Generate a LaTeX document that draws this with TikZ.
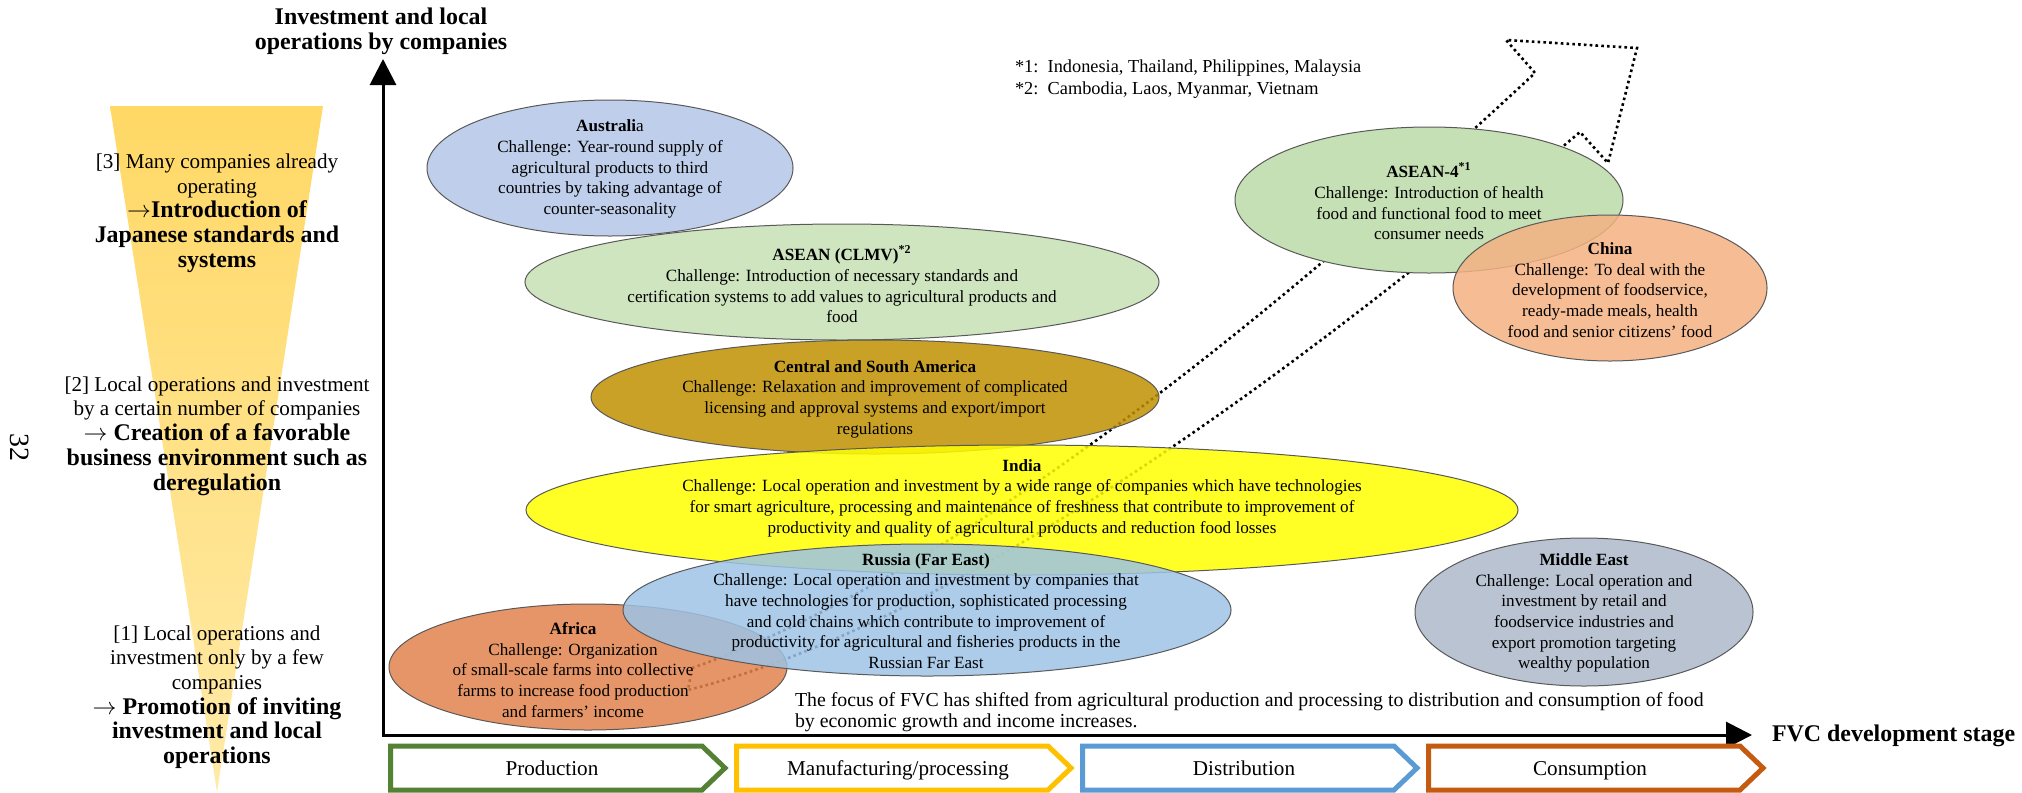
\documentclass[tikz,border=0pt]{standalone}
\usepackage{fontspec}
\setmainfont{Liberation Serif}
\usetikzlibrary{arrows.meta,shapes.geometric}

\definecolor{funneltop}{HTML}{FFD865}
\definecolor{funnelbot}{HTML}{FFEAA8}
\definecolor{ausblue}{HTML}{B4C7E7}
\definecolor{aseangreen}{HTML}{C5E0B4}
\definecolor{latamgold}{HTML}{BF9000}
\definecolor{indiayellow}{HTML}{FFFF00}
\definecolor{russiablue}{HTML}{9DC3E6}
\definecolor{africaorange}{HTML}{E2834D}
\definecolor{megray}{HTML}{ADB9CA}
\definecolor{chinapeach}{HTML}{F4B183}
\definecolor{prodgreen}{HTML}{548235}
\definecolor{manugold}{HTML}{FFC000}
\definecolor{distblue}{HTML}{5B9BD5}
\definecolor{consorange}{HTML}{C55A11}

% bold line of the funnel texts
\newcommand{\strongline}[1]{{\bfseries\fontsize{12}{12.6}\selectfont #1}}

\begin{document}
\begin{tikzpicture}[x=0.5bp, y=-0.5bp, >={Triangle[length=13bp,width=13bp]},
    region/.style={ellipse, draw=black!65, line width=0.5bp, fill opacity=0.85, inner sep=0pt},
    regtext/.style={align=center, font=\fontsize{8.6}{10.35}\selectfont},
    lefttext/.style={align=center, font=\fontsize{10.6}{12.4}\selectfont},
    bigbold/.style={font=\bfseries\fontsize{12}{12.5}\selectfont},
    flow/.style={draw=black, line width=1.3bp, dash pattern=on 1.3bp off 1.6bp},
    stagebox/.style={line width=2.5bp, fill=white, line join=miter},
    stagetext/.style={font=\fontsize{10.6}{12}\selectfont, text height=7.2pt, text depth=0pt}]
    \useasboundingbox (0,0) rectangle (2022,792);

    % Funnel on the left
    \shade[top color=funneltop, bottom color=funnelbot] (110,106) -- (323,106) -- (217,792) -- cycle;
    \node (pageno) [rotate=-90, font=\fontsize{14}{14}\selectfont] at (20,447) {32};

    \node (stage3) [lefttext] at (217,213) {[3] Many companies already\\operating\\\strongline{$\rightarrow$Introduction of}\\\strongline{Japanese standards and}\\\strongline{systems}};
    \node (stage2) [lefttext] at (217,436) {[2] Local operations and investment\\by a certain number of companies\\\strongline{$\rightarrow$ Creation of a favorable}\\\strongline{business environment such as}\\\strongline{deregulation}};
    \node (stage1) [lefttext] at (217,697) {[1] Local operations and\\investment only by a few\\companies\\\strongline{$\rightarrow$ Promotion of inviting}\\\strongline{investment and local}\\\strongline{operations}};

    % Dotted shift arrow
    \draw[flow] (692,668) .. controls (909,592) and (1190,394) .. (1535,73)
        -- (1506,40) -- (1637,48) -- (1608,163) -- (1580,132)
        .. controls (1208,448) and (911,634) .. (688,690) -- cycle;

    % Axes
    \coordinate (origin) at (383,735);
    \coordinate (ytop) at (383,59);
    \coordinate (xend) at (1752,735);
    \draw[<->, line width=1.5bp] (ytop) |- (xend);
    \node (ytitle) [bigbold, align=center] at (381,31) {Investment and local\\operations by companies};
    \node (xtitle) [bigbold, anchor=west] at (1765,736) {FVC development stage};

    % Regions
    \node (aus) [region, fill=ausblue, minimum width=183bp, minimum height=68bp] at (610,168) {};
    \node (clmv) [region, fill=aseangreen, minimum width=317bp, minimum height=58bp] at (842,282) {};
    \node (latam) [region, fill=latamgold, minimum width=284bp, minimum height=57bp] at (875,397) {};
    \node (india) [region, fill=indiayellow, minimum width=496bp, minimum height=65bp] at (1022,510) {};
    \node (africa) [region, fill=africaorange, minimum width=199bp, minimum height=63bp] at (588,667) {};
    \node (russia) [region, fill=russiablue, minimum width=304bp, minimum height=66bp] at (927,610) {};
    \node (meast) [region, fill=megray, minimum width=169bp, minimum height=74bp] at (1584,612) {};
    \node (asean4) [region, fill=aseangreen, fill opacity=1, minimum width=194bp, minimum height=73bp] at (1429,200) {};
    \node (china) [region, fill=chinapeach, minimum width=157bp, minimum height=73bp] at (1610,288) {};

    \node (aus-t) [regtext] at (610,169) {\textbf{Australi}a\\Challenge: Year-round supply of\\agricultural products to third\\countries by taking advantage of\\counter-seasonality};
    \node (clmv-t) [regtext] at (842,284) {\textbf{ASEAN (CLMV)\textsuperscript{*2}}\\Challenge: Introduction of necessary standards and\\certification systems to add values to agricultural products and\\food};
    \node (latam-t) [regtext] at (875,399) {\textbf{Central and South America}\\Challenge: Relaxation and improvement of complicated\\licensing and approval systems and export/import\\regulations};
    \node (india-t) [regtext] at (1022,498) {\textbf{India}\\Challenge: Local operation and investment by a wide range of companies which have technologies\\for smart agriculture, processing and maintenance of freshness that contribute to improvement of\\productivity and quality of agricultural products and reduction food losses};
    \node (russia-t) [regtext] at (926,611) {\textbf{Russia (Far East)}\\Challenge: Local operation and investment by companies that\\have technologies for production, sophisticated processing\\and cold chains which contribute to improvement of\\productivity for agricultural and fisheries products in the\\Russian Far East};
    \node (africa-t) [regtext] at (573,670) {\textbf{Africa}\\Challenge: Organization\\of small-scale farms into collective\\farms to increase food production\\and farmers’ income};
    \node (meast-t) [regtext] at (1584,613) {\textbf{Middle East}\\Challenge: Local operation and\\investment by retail and\\foodservice industries and\\export promotion targeting\\wealthy population};
    \node (asean4-t) [regtext] at (1429,201) {\textbf{ASEAN-4\textsuperscript{*1}}\\Challenge: Introduction of health\\food and functional food to meet\\consumer needs};
    \node (china-t) [regtext] at (1610,290) {\textbf{China}\\Challenge: To deal with the\\development of foodservice,\\ready-made meals, health\\food and senior citizens’ food};

    % Notes
    \node (note1) [anchor=west, font=\fontsize{9.2}{10}\selectfont] at (1008,68) {*1:\ \ Indonesia, Thailand, Philippines, Malaysia};
    \node (note2) [anchor=west, font=\fontsize{9.2}{10}\selectfont] at (1008,90) {*2:\ \ Cambodia, Laos, Myanmar, Vietnam};
    \node (shift) [anchor=west, align=left, font=\fontsize{9.95}{10.3}\selectfont] at (788,712) {The focus of FVC has shifted from agricultural production and processing to distribution and consumption of food\\by economic growth and income increases.};

    % Value chain stages
    \foreach \x/\col/\name/\txt in {388/prodgreen/prod/Production, 734/manugold/manu/{Manufacturing\slash processing}, 1080/distblue/dist/Distribution, 1426/consorange/cons/Consumption}{
        \draw[stagebox, draw=\col] (\x+2.5,746) -- (\x+314,746) -- (\x+337,768) -- (\x+314,790) -- (\x+2.5,790) -- cycle;
        \node (\name) [stagetext] at (\x+164,768) {\txt};
    }

\end{tikzpicture}
\end{document}
